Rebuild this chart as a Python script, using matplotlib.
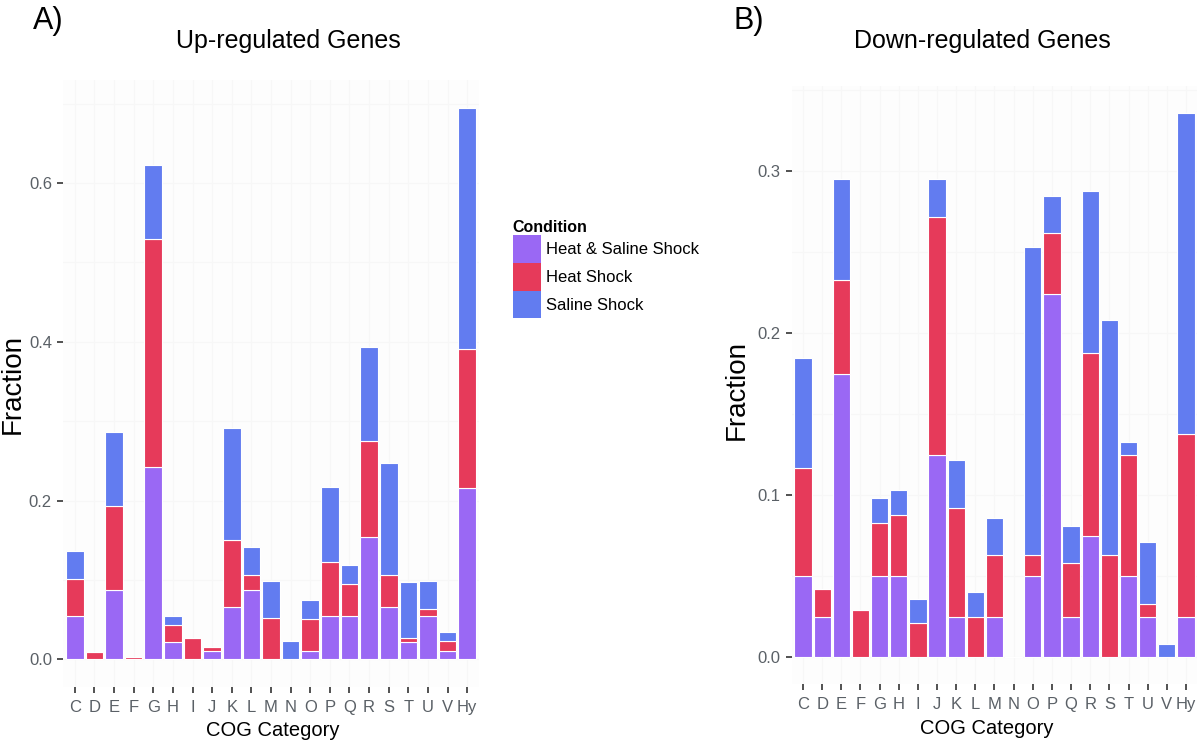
import matplotlib
matplotlib.use('Agg')
import matplotlib.pyplot as plt
from matplotlib.patches import Patch
import numpy as np

plt.rcParams['font.family'] = ['Liberation Sans', 'DejaVu Sans']

categories = ['C', 'D', 'E', 'F', 'G', 'H', 'I', 'J', 'K', 'L', 'M',
              'N', 'O', 'P', 'Q', 'R', 'S', 'T', 'U', 'V', 'Hy']
conditions = ['Heat & Saline Shock', 'Heat Shock', 'Saline Shock']
colors = ['#9A68F4', '#E63A5A', '#627CF0']

# up-regulated genes (panel A)
up_both = [0.055, 0, 0.088, 0, 0.242, 0.022, 0, 0.011, 0.066, 0.088, 0,
           0, 0.011, 0.055, 0.055, 0.154, 0.066, 0.022, 0.055, 0.011, 0.216]
up_heat = [0.046, 0.009, 0.105, 0.003, 0.287, 0.021, 0.027, 0.005, 0.084, 0.018, 0.052,
           0, 0.040, 0.068, 0.040, 0.121, 0.040, 0.005, 0.009, 0.012, 0.175]
up_saline = [0.035, 0, 0.094, 0, 0.094, 0.012, 0, 0, 0.141, 0.036, 0.047,
             0.023, 0.024, 0.094, 0.024, 0.118, 0.142, 0.071, 0.035, 0.012, 0.304]

# down-regulated genes (panel B)
down_both = [0.050, 0.025, 0.175, 0, 0.050, 0.050, 0, 0.125, 0.025, 0, 0.025,
             0, 0.050, 0.224, 0.025, 0.075, 0, 0.050, 0.025, 0, 0.025]
down_heat = [0.067, 0.017, 0.058, 0.029, 0.033, 0.038, 0.021, 0.147, 0.067, 0.025, 0.038,
             0, 0.013, 0.038, 0.033, 0.113, 0.063, 0.075, 0.008, 0, 0.113]
down_saline = [0.068, 0, 0.062, 0, 0.015, 0.015, 0.015, 0.023, 0.030, 0.015, 0.023,
               0, 0.190, 0.023, 0.023, 0.100, 0.145, 0.008, 0.038, 0.008, 0.198]

W, H = 1200, 742
fig = plt.figure(figsize=(12, 7.42), dpi=100)
fig.patch.set_facecolor('white')

tick_grey = '#5A6066'


def stacked(ax, series, step):
    x = np.arange(1, len(categories) + 1)
    bottom = np.zeros(len(categories))
    for vals, col in zip(series, colors):
        vals = np.array(vals)
        ax.bar(x, vals, 0.9, bottom=bottom, color=col,
               edgecolor='white', linewidth=0.8)
        bottom += vals
    top = bottom.max()
    ax.set_ylim(-0.05 * top, 1.05 * top)
    ax.set_xlim(0.4, len(categories) + 0.6)
    ax.set_xticks(x)
    ax.set_xticklabels(categories)
    ax.set_yticks(np.arange(0, top, step))
    ax.set_yticks(np.arange(step / 2, top * 1.05, step), minor=True)
    ax.set_facecolor('#FDFDFD')
    ax.grid(True, which='both', color='#F7F7F7', linewidth=0.8)
    ax.set_axisbelow(True)
    for s in ax.spines.values():
        s.set_visible(False)
    ax.tick_params(axis='both', which='major', colors='#333333',
                   labelcolor=tick_grey, labelsize=12, length=4.5, width=1.2)
    ax.tick_params(axis='both', which='minor', length=0)
    ax.tick_params(axis='x', pad=5)
    ax.yaxis.set_major_formatter(plt.FuncFormatter(lambda v, p: '%.1f' % v))


def fx(px):
    return px / W


def fy(py):
    return 1 - py / H


ax1 = fig.add_axes([fx(63), fy(687), fx(479 - 63), (687 - 80) / H])
stacked(ax1, [up_both, up_heat, up_saline], 0.2)

ax2 = fig.add_axes([fx(791.5), fy(684.2), fx(1197.5 - 791.5), (684.2 - 85.9) / H])
stacked(ax2, [down_both, down_heat, down_saline], 0.1)

# panel letters and titles
fig.text(fx(33), fy(21), 'A)', fontsize=22, ha='left', va='center')
fig.text(fx(733), fy(21), 'B)', fontsize=22, ha='left', va='center')
fig.text(fx(288), fy(41), 'Up-regulated Genes', fontsize=18, ha='center', va='center')
fig.text(fx(982), fy(41), 'Down-regulated Genes', fontsize=18, ha='center', va='center')

# axis titles
fig.text(fx(12.5), fy(384), 'Fraction', fontsize=20, rotation=90, ha='center', va='center')
fig.text(fx(736.5), fy(390), 'Fraction', fontsize=20, rotation=90, ha='center', va='center')
fig.text(fx(273), fy(730), 'COG Category', fontsize=14.5, ha='center', va='center')
fig.text(fx(987), fy(728), 'COG Category', fontsize=14.5, ha='center', va='center')

handles = [Patch(facecolor=c, edgecolor='none') for c in colors]
leg = fig.legend(handles, conditions, title='Condition', loc='upper left',
                 bbox_to_anchor=(fx(506), fy(213)), frameon=False,
                 fontsize=12, title_fontproperties={'weight': 'bold', 'size': 11.5},
                 handlelength=1.7, handleheight=2.2, labelspacing=0.0,
                 handletextpad=0.3, borderaxespad=0, alignment='left')

fig.savefig('out.png', dpi=100)
